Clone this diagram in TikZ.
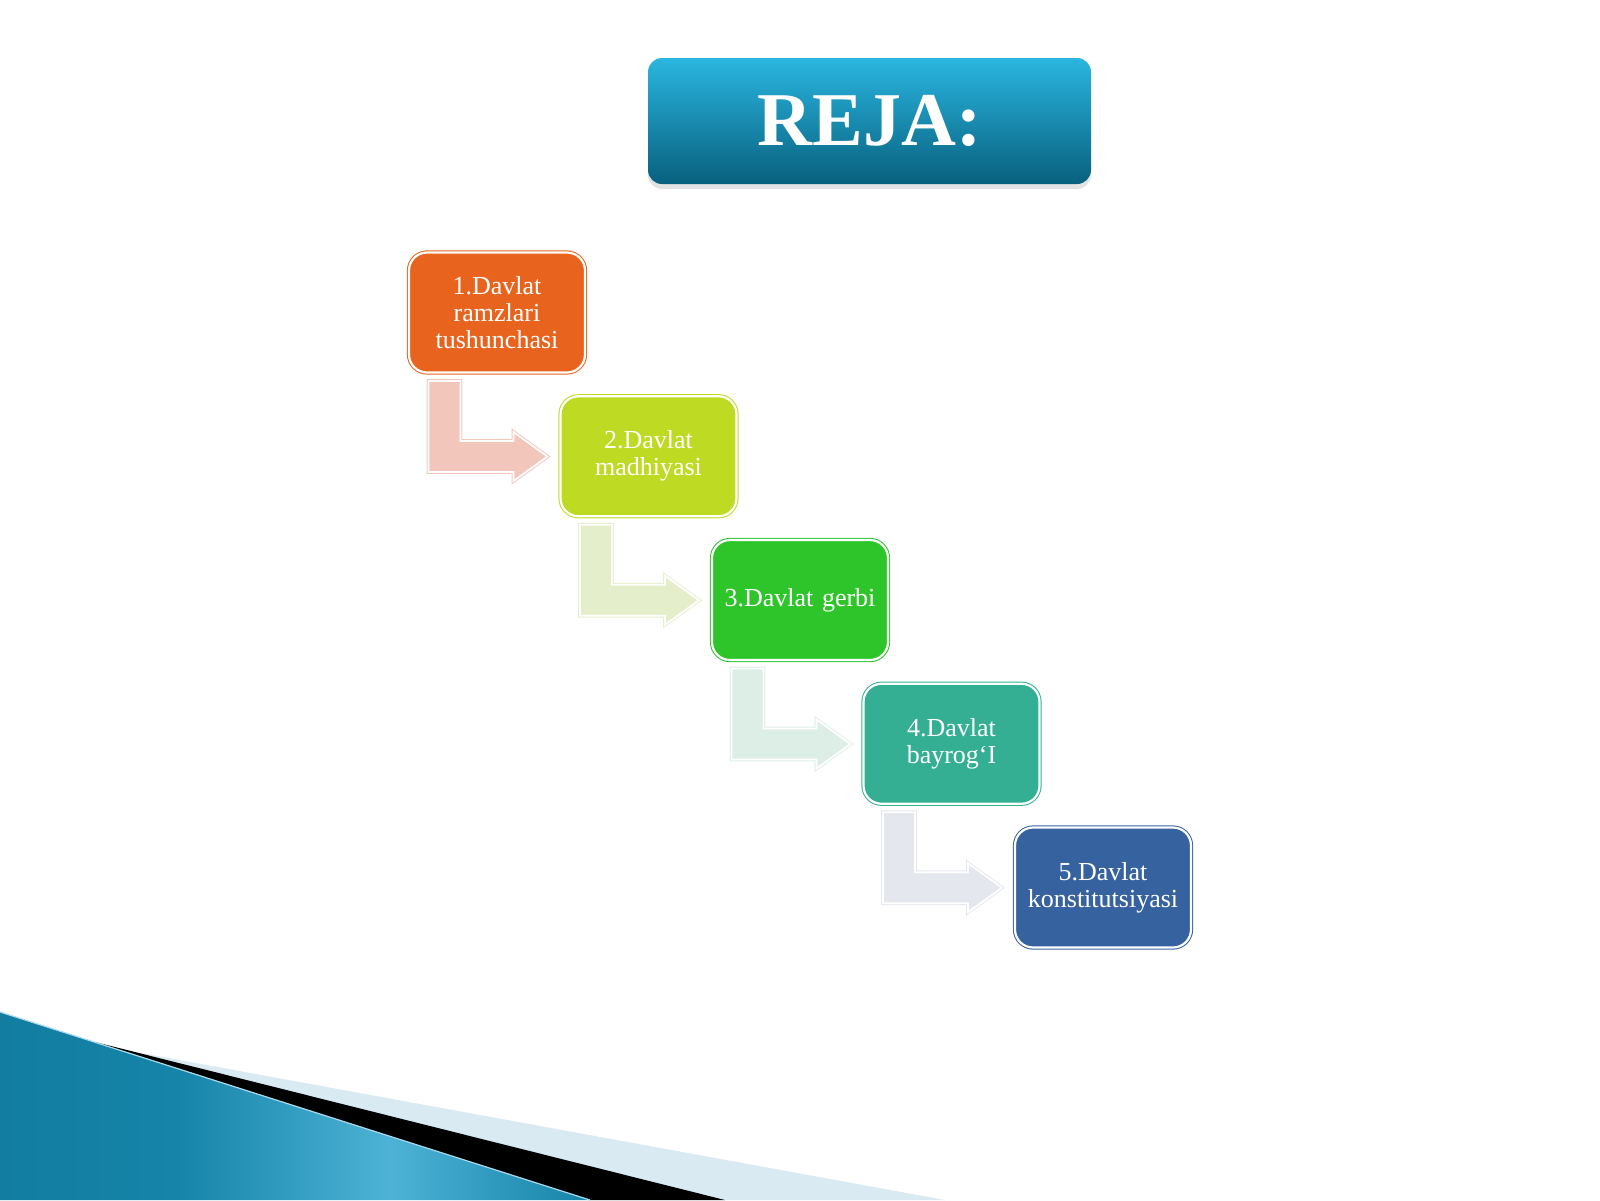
\documentclass[tikz,border=0pt]{standalone}
\usepackage{fontspec}
\setmainfont{Liberation Serif}
\usetikzlibrary{shadows}
\definecolor{c1}{HTML}{E8641E}
\definecolor{c2}{HTML}{BEDA22}
\definecolor{c3}{HTML}{2EC52B}
\definecolor{c4}{HTML}{34AF94}
\definecolor{c5}{HTML}{3762A0}
\definecolor{a1}{HTML}{F2C6BB}
\definecolor{a2}{HTML}{E5EECB}
\definecolor{a3}{HTML}{DCEEE5}
\definecolor{a4}{HTML}{E5E7EE}
\definecolor{tA}{HTML}{2AB6E0}
\definecolor{tB}{HTML}{08607E}
\definecolor{wavea}{HTML}{127DA0}
\definecolor{waveb}{HTML}{4DB2D6}
\definecolor{wavec}{HTML}{1584A8}
\definecolor{wavelight}{HTML}{D9EAF2}
\definecolor{waveedge}{HTML}{A9D9EA}
\pgfdeclarehorizontalshading{wave}{100bp}{color(0bp)=(wavea); color(25bp)=(wavea); color(40bp)=(wavec); color(58bp)=(waveb); color(75bp)=(wavec); color(100bp)=(wavec)}
\begin{document}
\begin{tikzpicture}[x=0.5pt,y=-0.5pt,
	stepbox/.style={rounded corners=9pt,minimum width=88pt,minimum height=60pt,text width=86pt,inner sep=1pt,align=center,text=white,font=\fontsize{13}{13.5}\selectfont,line width=0.5pt,double=white,double distance=1.1pt},
	bent/.style={line width=0.45pt,double=white,double distance=0.9pt,line join=miter},
	titlebox/.style={rounded corners=7pt,minimum width=221.5pt,minimum height=63pt,top color=tA,bottom color=tB,draw=none,text=white,font=\fontsize{38}{38}\selectfont\bfseries,drop shadow={opacity=0.22,shadow xshift=0pt,shadow yshift=-2.5pt}}]
	\useasboundingbox (0,0) rectangle (1600,1200);
	%pastki to'lqin
	\fill[wavelight] (130,1051)--(945,1200)--(725,1200)--cycle;
	\fill[black] (95,1042)--(725,1200)--(590,1200)--cycle;
	\shade[shading=wave] (0,1012)--(590,1200)--(0,1200)--cycle;
	\draw[waveedge,line width=0.6pt] (0,1012)--(590,1200);
	\node[titlebox] (reja) at (869.5,121) {REJA:};
	\foreach \i/\mau/\nhan in {1/c1/{1.Davlat\\ramzlari\\tushunchasi},2/c2/{2.Davlat\\madhiyasi},3/c3/{3.Davlat gerbi},4/c4/{4.Davlat\\bayrog‘I},5/c5/{5.Davlat\\konstitutsiyasi}}
	\node[stepbox,draw=\mau,fill=\mau] (b\i) at ({497+151.5*(\i-1)},{312.5+143.75*(\i-1)}) {\nhan};
	\foreach \i/\mau in {1/a1,2/a2,3/a3,4/a4}
	\draw[bent,draw=\mau,fill=\mau,shift={(b\i.south west)}] (20,8)--(52,8)--(52,68)--(105,68)--(105,59)--(139,83.5)--(105,108)--(105,99)--(20,99)--cycle;
\end{tikzpicture}
\end{document}
